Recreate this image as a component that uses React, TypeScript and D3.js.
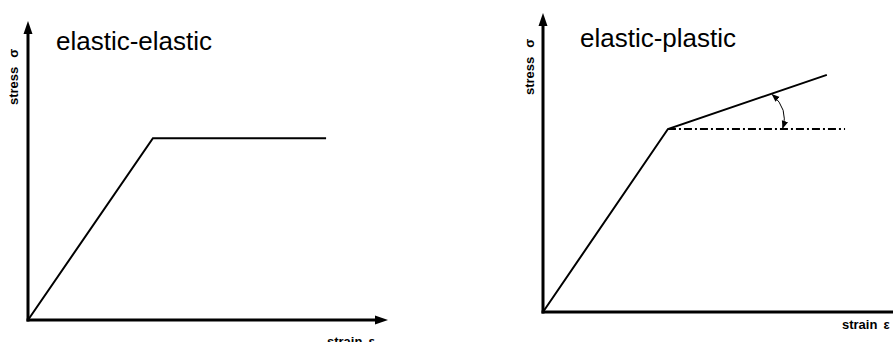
import React from "react";
import * as d3 from "d3";

// Panel data (strain, stress in arbitrary units 0..10)
const elasticStrain = [0, 3.47, 8.28];
const elasticStress = [0, 6.08, 6.08];
const plasticStrain = [0, 3.57, 8.11];
const plasticStress = [0, 6.12, 7.93];
const refStrain = [3.57, 8.63];
const refStress = [6.12, 6.12];
const titles = ["elastic-elastic", "elastic-plastic"];
const yLabel = ["stress", "σ"];
const xLabel = ["strain", "ε"];

const W = 893;
const H = 342;

type Pt = [number, number];

const xL = d3.scaleLinear().domain([0, 10]).range([28, 388]);
const yL = d3.scaleLinear().domain([0, 10]).range([320, 21]);
const xR = d3.scaleLinear().domain([0, 10]).range([543, 893]);
const yR = d3.scaleLinear().domain([0, 10]).range([312, 13]);

const line = d3.line<Pt>();

function zip(a: number[], b: number[], sx: d3.ScaleLinear<number, number>, sy: d3.ScaleLinear<number, number>): Pt[] {
  return a.map((v, i) => [sx(v), sy(b[i])] as Pt);
}

function Axes({ sx, sy, xArrow }: { sx: d3.ScaleLinear<number, number>; sy: d3.ScaleLinear<number, number>; xArrow: boolean }) {
  const x0 = sx(0);
  const y0 = sy(0);
  const [, xEnd] = sx.range();
  const [, yTop] = sy.range();
  return (
    <g>
      <line x1={x0} y1={y0 + 1.5} x2={x0} y2={yTop + 10} stroke="#000" strokeWidth={3} />
      <path d={`M${x0},${yTop} L${x0 - 4.5},${yTop + 13} L${x0 + 4.5},${yTop + 13} Z`} fill="#000" />
      <line x1={x0 - 1.5} y1={y0} x2={xArrow ? xEnd - 10 : xEnd} y2={y0} stroke="#000" strokeWidth={3} />
      {xArrow && <path d={`M${xEnd},${y0} L${xEnd - 13},${y0 - 4.5} L${xEnd - 13},${y0 + 4.5} Z`} fill="#000" />}
    </g>
  );
}

export default function App() {
  const leftCurve = zip(elasticStrain, elasticStress, xL, yL);
  const rightCurve = zip(plasticStrain, plasticStress, xR, yR);
  const refLine = zip(refStrain, refStress, xR, yR);

  // angle arc endpoints: on plastic line and on reference line
  const sA = 6.55;
  const t = (sA - plasticStrain[1]) / (plasticStrain[2] - plasticStrain[1]);
  const stressA = plasticStress[1] + t * (plasticStress[2] - plasticStress[1]);
  const pA: Pt = [xR(sA), yR(stressA) + 1];
  const pB: Pt = [xR(6.85), yR(refStress[0]) - 1];
  const ctrl: Pt = [pB[0] + 6, (pA[1] + pB[1]) / 2 - 2];

  return (
    <svg width={W} height={H} style={{ position: "absolute", left: 0, top: 0, background: "#fff" }} fontFamily="Liberation Sans, Arial, sans-serif">
      <defs>
        <marker id="ah" viewBox="0 0 10 10" refX="9" refY="5" markerWidth="8" markerHeight="8" orient="auto-start-reverse" markerUnits="userSpaceOnUse">
          <path d="M0,1 L10,5 L0,9 Z" fill="#000" />
        </marker>
      </defs>
      <rect width={W} height={H} fill="#fff" />
      {/* Left panel */}
      <Axes sx={xL} sy={yL} xArrow={true} />
      <path d={line(leftCurve) || ""} fill="none" stroke="#000" strokeWidth={2} />
      <text x={56} y={50} fontSize={26}>{titles[0]}</text>
      <text transform="translate(18,105) rotate(-90)" fontSize={13} fontWeight="bold">
        {yLabel[0]}<tspan dx={9}>{yLabel[1]}</tspan>
      </text>
      <text x={327} y={346} fontSize={13} fontWeight="bold">
        {xLabel[0]}<tspan dx={6}>{xLabel[1]}</tspan>
      </text>

      {/* Right panel */}
      <Axes sx={xR} sy={yR} xArrow={false} />
      <path d={line(refLine) || ""} fill="none" stroke="#000" strokeWidth={2} strokeDasharray="8,3,2,3" />
      <path d={line(rightCurve) || ""} fill="none" stroke="#000" strokeWidth={2} />
      <path d={`M${pA[0]},${pA[1]} Q${ctrl[0]},${ctrl[1]} ${pB[0]},${pB[1]}`} fill="none" stroke="#000" strokeWidth={1} markerStart="url(#ah)" markerEnd="url(#ah)" />
      <text x={580} y={47} fontSize={26}>{titles[1]}</text>
      <text transform="translate(534,95) rotate(-90)" fontSize={13} fontWeight="bold">
        {yLabel[0]}<tspan dx={9}>{yLabel[1]}</tspan>
      </text>
      <text x={842} y={329} fontSize={13} fontWeight="bold">
        {xLabel[0]}<tspan dx={6}>{xLabel[1]}</tspan>
      </text>
    </svg>
  );
}
